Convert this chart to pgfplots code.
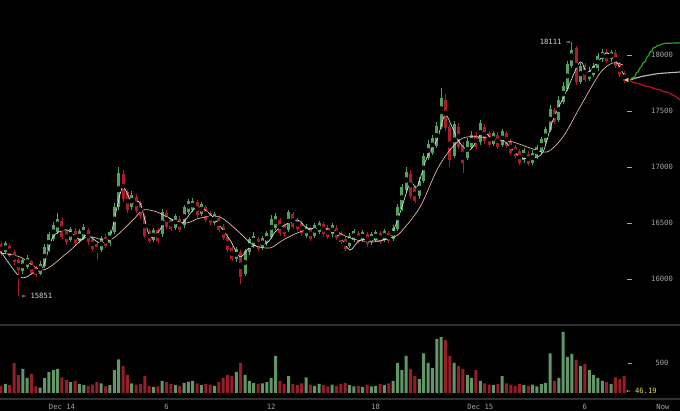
\documentclass[border=0pt]{standalone}
\usepackage{fontspec}
\setmainfont{DejaVu Sans Mono}
\usepackage{pgfplots}
\usepackage{pgfplotstable}
\pgfplotsset{compat=1.18}

\definecolor{upc}{RGB}{84,160,94}
\definecolor{dnc}{RGB}{172,28,40}
\definecolor{upv}{RGB}{98,150,104}
\definecolor{dnv}{RGB}{150,30,40}
\definecolor{mafast}{RGB}{200,236,226}
\definecolor{maslow}{RGB}{236,192,176}
\definecolor{txt}{RGB}{165,165,165}
\definecolor{lbl}{RGB}{215,215,215}
\definecolor{sep}{RGB}{48,48,48}
\definecolor{pgreen}{RGB}{40,165,40}
\definecolor{pred}{RGB}{185,15,30}
\definecolor{pgrey}{RGB}{190,190,190}
\definecolor{yel}{RGB}{232,218,72}

\newcommand\lblfont{\fontsize{7.2}{8}\selectfont}

% 15-minute candles, t = hours from Dec 14 00:00
\pgfplotstableread{
t o h l c v
-3.50 16310 16330 16210 16230 120
-3.25 16240 16340 16225 16320 150
-3.00 16300 16315 16195 16210 130
-2.75 16240 16260 16130 16150 500
-2.50 16170 16190 15851 16080 300
-2.25 16070 16190 16050 16170 400
-2.00 16110 16220 16095 16190 250
-1.75 16160 16175 16040 16060 320
-1.50 16100 16120 16020 16040 110
-1.25 16050 16160 16035 16140 90
-1.00 16120 16310 16100 16290 250
-0.75 16260 16420 16240 16400 350
-0.50 16360 16510 16340 16480 380
-0.25 16420 16591 16400 16540 400
0.00 16520 16550 16360 16380 260
0.25 16430 16450 16310 16330 220
0.50 16350 16470 16330 16450 180
0.75 16430 16460 16300 16320 200
1.00 16340 16450 16320 16430 150
1.25 16370 16490 16350 16470 130
1.50 16440 16460 16310 16330 120
1.75 16360 16380 16250 16270 140
2.00 16310 16330 16172 16230 180
2.25 16260 16390 16240 16370 160
2.50 16380 16400 16280 16300 110
2.75 16320 16440 16300 16420 130
3.00 16420 16680 16400 16640 380
3.25 16640 17001 16620 16950 560
3.50 16940 16970 16690 16720 450
3.75 16780 16800 16590 16620 300
4.00 16640 16790 16620 16750 160
4.25 16730 16760 16590 16610 140
4.50 16680 16700 16540 16560 150
4.75 16560 16580 16370 16390 280
5.00 16430 16450 16320 16340 120
5.25 16350 16460 16330 16440 100
5.50 16440 16460 16320 16340 110
5.75 16400 16630 16380 16600 200
6.00 16590 16620 16450 16470 180
6.25 16530 16550 16430 16450 150
6.50 16460 16580 16440 16560 130
6.75 16540 16560 16420 16440 120
7.00 16480 16660 16460 16640 170
7.25 16600 16720 16580 16700 190
7.50 16620 16725 16600 16700 200
7.75 16690 16710 16550 16570 160
8.00 16580 16690 16560 16670 130
8.25 16640 16660 16510 16530 150
8.50 16590 16610 16480 16500 140
8.75 16500 16600 16480 16580 120
9.00 16550 16570 16420 16440 180
9.25 16470 16490 16350 16370 250
9.50 16380 16400 16240 16260 300
9.75 16280 16300 16160 16180 280
10.00 16180 16290 16150 16270 350
10.25 16240 16260 15960 16020 500
10.50 16050 16270 16030 16250 300
10.75 16240 16380 16220 16360 200
11.00 16300 16420 16280 16390 170
11.25 16360 16380 16250 16270 150
11.50 16280 16390 16260 16370 160
11.75 16320 16430 16300 16410 180
12.00 16380 16570 16360 16540 250
12.25 16460 16590 16440 16560 620
12.50 16530 16550 16390 16410 200
12.75 16480 16500 16380 16400 150
13.00 16440 16618 16420 16600 280
13.25 16580 16600 16450 16470 150
13.50 16530 16550 16430 16450 130
13.75 16500 16520 16390 16410 160
14.00 16390 16490 16370 16470 260
14.25 16450 16470 16340 16360 140
14.50 16390 16500 16370 16480 120
14.75 16420 16520 16400 16500 150
15.00 16490 16510 16380 16400 130
15.25 16460 16480 16360 16380 110
15.50 16400 16500 16380 16480 140
15.75 16460 16480 16350 16370 120
16.00 16410 16430 16310 16330 150
16.25 16360 16380 16250 16270 170
16.50 16300 16410 16280 16390 130
16.75 16350 16450 16330 16430 110
17.00 16410 16430 16310 16330 120
17.25 16350 16440 16330 16420 100
17.50 16400 16420 16290 16310 140
17.75 16330 16420 16310 16400 110
18.00 16350 16440 16330 16420 120
18.25 16410 16430 16310 16330 150
18.50 16350 16450 16330 16430 130
18.75 16410 16430 16320 16340 160
19.00 16360 16480 16340 16460 200
19.25 16450 16670 16430 16640 500
19.50 16630 16850 16610 16820 380
19.75 16800 17001 16780 16960 620
20.00 16940 16970 16720 16740 400
20.25 16820 16840 16680 16700 280
20.50 16740 16910 16720 16880 230
20.75 16880 17130 16860 17100 660
21.00 17080 17240 17060 17210 500
21.25 17130 17290 17110 17260 420
21.50 17190 17400 17170 17370 900
21.75 17360 17706 17340 17620 930
22.00 17600 17650 17320 17350 880
22.25 17360 17380 17001 17060 620
22.50 17100 17410 17080 17380 500
22.75 17360 17390 17160 17180 450
23.00 17200 17220 16948 17040 400
23.25 17080 17260 17060 17230 300
23.50 17180 17320 17160 17290 250
23.75 17290 17310 17160 17180 380
24.00 17220 17420 17200 17390 200
24.25 17360 17380 17210 17230 160
24.50 17300 17320 17180 17200 140
24.75 17210 17320 17190 17300 130
25.00 17290 17310 17160 17180 150
25.25 17200 17340 17180 17320 280
25.50 17300 17320 17170 17190 160
25.75 17230 17250 17110 17130 140
26.00 17180 17200 17080 17100 120
26.25 17140 17160 17020 17040 150
26.50 17060 17170 17040 17150 130
26.75 17120 17140 17010 17030 120
27.00 17040 17150 17020 17130 140
27.25 17090 17200 17070 17180 110
27.50 17140 17270 17120 17250 150
27.75 17220 17360 17200 17340 170
28.00 17330 17550 17310 17520 660
28.25 17510 17530 17380 17400 200
28.50 17420 17630 17400 17600 250
28.75 17580 17760 17560 17720 1020
29.00 17700 17950 17680 17920 600
29.25 17900 18111 17880 18040 650
29.50 18060 18080 17730 17760 550
29.75 17760 17930 17740 17900 450
30.00 17910 17930 17760 17780 480
30.25 17790 17890 17770 17860 380
30.50 17820 17930 17800 17900 300
30.75 17880 18020 17860 17990 250
31.00 17960 18050 17940 18030 200
31.25 18030 18050 17930 17950 180
31.50 17960 18045 17940 18030 150
31.75 18020 18040 17880 17900 260
32.00 17920 17940 17800 17820 230
32.25 17840 17860 17750 17770 280
}\candles

\pgfplotsset{
  upbar/.style={restrict expr to domain={\thisrow{c}-\thisrow{o}}{0:100000}},
  dnbar/.style={restrict expr to domain={\thisrow{c}-\thisrow{o}}{-100000:-0.01}},
}

\begin{document}
\begin{tikzpicture}
\fill[black] (0,0) rectangle (680pt,411pt);
\useasboundingbox (0,0) rectangle (680pt,411pt);

% price panel
\begin{axis}[
  at={(0pt,89pt)}, anchor=south west,
  scale only axis, width=680pt, height=322pt,
  xmin=-3.557, xmax=35.456, ymin=15619, ymax=18490,
  scaled y ticks=false, scaled x ticks=false,
  axis line style={draw=none},
  xtick=\empty,
  ytick={16000,16500,17000,17500,18000},
  yticklabels={16000,16500,17000,17500,18000},
  ytick pos=right, yticklabel pos=right,
  tick align=inside, major tick length=5pt,
  ytick style={draw=txt, line width=0.6pt, xshift=-48pt},
  yticklabel style={anchor=center, xshift=-18pt, font=\lblfont, text=txt},
]
% wicks
\addplot[only marks, mark=none, upbar, error bars/.cd, y dir=both, y explicit,
  error mark=none, error bar style={draw=upc, line width=0.7pt}]
  table[x=t, y expr={(\thisrow{h}+\thisrow{l})/2}, y error expr={(\thisrow{h}-\thisrow{l})/2}] {\candles};
\addplot[only marks, mark=none, dnbar, error bars/.cd, y dir=both, y explicit,
  error mark=none, error bar style={draw=dnc, line width=0.7pt}]
  table[x=t, y expr={(\thisrow{h}+\thisrow{l})/2}, y error expr={(\thisrow{h}-\thisrow{l})/2}] {\candles};
% bodies
\addplot[only marks, mark=none, upbar, error bars/.cd, y dir=both, y explicit,
  error mark=none, error bar style={draw=upc, line width=3pt}]
  table[x=t, y expr={(\thisrow{o}+\thisrow{c})/2}, y error expr={max(abs(\thisrow{c}-\thisrow{o})/2,5)}] {\candles};
\addplot[only marks, mark=none, dnbar, error bars/.cd, y dir=both, y explicit,
  error mark=none, error bar style={draw=dnc, line width=3pt}]
  table[x=t, y expr={(\thisrow{o}+\thisrow{c})/2}, y error expr={max(abs(\thisrow{c}-\thisrow{o})/2,5)}] {\candles};

% slow moving average
\addplot[maslow, line width=0.65pt, smooth, tension=0.5] coordinates {
(-3.56,16234) (-2.41,16199) (-1.09,16083) (0.29,16234) (1.43,16377) (2.75,16350)
(4.07,16529) (4.65,16618) (5.45,16600) (6.37,16529) (7.17,16502) (7.92,16546)
(9.06,16555) (10.21,16413) (10.96,16306) (11.93,16279) (12.68,16350) (13.65,16422)
(14.63,16457) (15.55,16440) (16.52,16368) (17.84,16332) (18.82,16368) (19.39,16413)
(20.54,16644) (21.51,16975) (22.26,17153) (23.01,17260) (23.98,17269) (24.96,17242)
(25.87,17224) (26.85,17171) (27.83,17135) (28.74,17269) (29.72,17536) (30.87,17839)
(31.61,17929) (32.18,17911)};
% fast moving average
\addplot[mafast, line width=0.65pt, smooth, tension=0.5] coordinates {
(-3.56,16261) (-2.41,16020) (-1.66,16056) (-1.09,16110) (-0.52,16377) (0.29,16440)
(1.03,16350) (1.43,16395) (2.18,16324) (2.75,16377) (3.16,16644) (3.50,16823)
(4.02,16680) (4.48,16680) (5.05,16377) (5.62,16440) (6.02,16555) (6.77,16484)
(7.52,16618) (7.92,16644) (8.66,16555) (9.64,16350) (10.21,16199) (10.79,16288)
(11.76,16324) (12.34,16440) (13.48,16529) (14.06,16457) (15.20,16440) (15.95,16377)
(16.52,16261) (17.10,16350) (18.07,16350) (18.82,16377) (19.39,16591) (19.97,16859)
(20.37,16823) (20.94,17090) (21.51,17242) (21.97,17465) (22.38,17358) (22.83,17215)
(23.41,17153) (24.15,17313) (24.73,17242) (25.30,17242) (26.28,17090) (27.02,17081)
(27.60,17135) (28.17,17420) (28.97,17688) (29.72,17938) (30.12,17839) (30.69,17929)
(31.27,18018) (31.84,17929) (32.30,17804)};

% projections
\addplot[pgrey, line width=1.1pt, smooth] coordinates {
(32.59,17777) (33.16,17804) (33.74,17822) (34.31,17835) (35.46,17848)};
\addplot[pgreen, line width=1.2pt] coordinates {
(32.59,17777) (32.75,17800) (32.85,17796) (32.95,17840) (33.05,17850) (33.16,17884)
(33.25,17896) (33.33,17929) (33.45,17940) (33.56,17982) (33.65,17994) (33.74,18027)
(33.85,18036) (33.91,18062) (34.05,18068) (34.14,18082) (34.30,18088) (34.48,18100)
(34.65,18104) (35.46,18107)};
\addplot[pred, line width=1.3pt] coordinates {
(32.59,17768) (32.85,17752) (33.16,17741) (33.45,17722) (33.74,17715) (34.02,17697)
(34.31,17688) (34.52,17672) (34.71,17670) (34.95,17650) (35.17,17634) (35.46,17599)};
\addplot[only marks, mark=triangle*, mark size=2.2pt,
  mark options={rotate=90, fill=yel, draw=yel}] coordinates {(32.42,17777)};

\node[text=lbl, font=\lblfont] at (axis cs:28.28,18116) {18111 →};
\node[text=lbl, font=\lblfont] at (axis cs:-1.43,15851) {← 15851};
\end{axis}

% volume panel
\begin{axis}[
  at={(0pt,12pt)}, anchor=south west,
  scale only axis, width=680pt, height=74pt,
  xmin=-3.557, xmax=35.456, ymin=-100, ymax=1133,
  scaled y ticks=false, scaled x ticks=false,
  separate axis lines,
  x axis line style={draw=sep, line width=1.6pt},
  y axis line style={draw=none},
  xtick={0,6,12,18,24,30,34.48},
  xticklabels={Dec 14,6,12,18,Dec 15,6,Now},
  xtick pos=bottom,
  xtick style={draw=none},
  xticklabel style={anchor=center, yshift=-7.5pt, font=\lblfont, text=txt},
  ytick={500}, yticklabels={500},
  ytick pos=right, yticklabel pos=right,
  tick align=inside, major tick length=4pt,
  ytick style={draw=txt, line width=0.6pt, xshift=-48pt},
  yticklabel style={anchor=center, xshift=-18pt, font=\lblfont, text=txt},
]
\addplot[ybar, bar width=3pt, bar shift=0pt, fill=upv, draw=none, upbar]
  table[x=t, y=v] {\candles};
\addplot[ybar, bar width=3pt, bar shift=0pt, fill=dnv, draw=none, dnbar]
  table[x=t, y=v] {\candles};
\node[text=yel, font=\lblfont] at (axis cs:33.25,33) {← 46.19};
\end{axis}
\end{tikzpicture}
\end{document}
